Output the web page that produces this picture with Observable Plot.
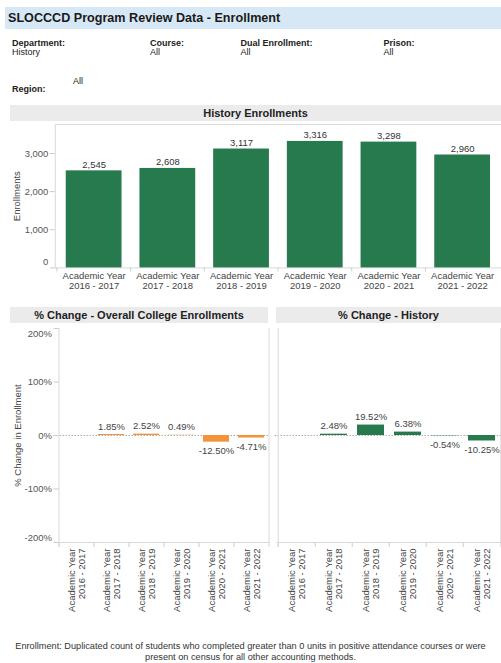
<!DOCTYPE html>
<html><head><meta charset="utf-8">
<script src="https://cdn.jsdelivr.net/npm/d3@7"></script>
<script src="https://cdn.jsdelivr.net/npm/@observablehq/plot@0.6"></script>
<style>
html,body{margin:0;padding:0;background:#fff;overflow:hidden;}
#page{position:relative;width:501px;height:663px;font-family:"Liberation Sans",Arial,sans-serif;color:#222;overflow:hidden;}
.abs{position:absolute;white-space:nowrap;line-height:11px;}
.hdr{position:absolute;background:#ebebeb;font-weight:bold;font-size:11px;text-align:center;color:#222;height:16px;line-height:16px;}
.lbl{font-weight:bold;font-size:9px;}
.val{font-size:9px;}
.chart{position:absolute;}
.foot{position:absolute;left:0;width:501px;text-align:center;font-size:9.2px;line-height:11px;color:#333;}
</style></head><body><div id="page"></div>
<script>
// ---- data ----
const titleText = "SLOCCCD Program Review Data - Enrollment";
const filterNames = ["Department:", "Course:", "Dual Enrollment:", "Prison:"];
const filterValues = ["History", "All", "All", "All"];
const regionName = "Region:";
const regionValue = "All";
const years = ["2016 - 2017", "2017 - 2018", "2018 - 2019", "2019 - 2020", "2020 - 2021", "2021 - 2022"];
const enrollments = [2545, 2608, 3117, 3316, 3298, 2960];
const collegeChange = [null, 1.85, 2.52, 0.49, -12.50, -4.71];
const historyChange = [null, 2.48, 19.52, 6.38, -0.54, -10.25];
const enrollTicks = [0, 1000, 2000, 3000];
const pctTicks = [-200, -100, 0, 100, 200];
const footLines = [
  "Enrollment: Duplicated count of students who completed greater than 0 units in positive attendance courses or were",
  "present on census for all other accounting methods."
];

const GREEN = "#277a4e";
const ORANGE = "#f4933a";
const FONT = "'Liberation Sans', Arial, sans-serif";
const page = document.getElementById("page");

function el(tag, cls, css, text) {
  const e = document.createElement(tag);
  if (cls) e.className = cls;
  Object.assign(e.style, css);
  if (text != null) e.textContent = text;
  page.appendChild(e);
  return e;
}

// ---- header ----
el("div", null, {position:"absolute", left:"5px", top:"7px", width:"496px", height:"22px", background:"#d6e7f5",
  fontWeight:"bold", fontSize:"12.6px", lineHeight:"22px", paddingLeft:"3px", boxSizing:"border-box", color:"#1a1a1a"}, titleText);
const fx = [12, 150, 240.5, 383.5];
filterNames.forEach((n, i) => {
  el("div", "abs lbl", {left: fx[i] + "px", top: "37.5px"}, n);
  el("div", "abs val", {left: fx[i] + "px", top: "46.5px"}, filterValues[i]);
});
el("div", "abs lbl", {left: "12px", top: "83.5px"}, regionName);
el("div", "abs val", {left: "73px", top: "75.5px"}, regionValue);

el("div", "hdr", {left:"10px", top:"105px", width:"491px"}, "History Enrollments");
el("div", "hdr", {left:"10px", top:"307px", width:"258px"}, "% Change - Overall College Enrollments");
el("div", "hdr", {left:"276px", top:"307px", width:"225px"}, "% Change - History");

footLines.forEach((t, i) => el("div", "foot", {top: (641 + i * 11) + "px"}, t));

const style = {fontFamily: FONT, fontSize: "9.5px", color: "#444", background: "transparent", overflow: "visible"};
const yearFmt = d => "Academic Year\n" + d;

// ---- enrollment bar chart ----
{
  const W = 503, H = 178, ML = 55, MT = 2, MB = 32;
  const frameH = H - MT - MB;
  const step = (W - ML) / years.length;
  const table = years.map((y, i) => ({year: y, value: enrollments[i]}));
  const chart = Plot.plot({
    width: W, height: H, marginLeft: ML, marginRight: 0, marginTop: MT, marginBottom: MB,
    style,
    x: {domain: years, paddingInner: 0.25, paddingOuter: 0.125, axis: null},
    y: {domain: [0, 3760], axis: null},
    marks: [
      Plot.frame({stroke: "#d9d9d9"}),
      Plot.barY(table, {x: "year", y: "value", fill: GREEN}),
      Plot.text(table, {x: "year", y: "value", text: d => d3.format(",")(d.value), dy: -3, lineAnchor: "bottom", fill: "#333"}),
      Plot.ruleX(years, {x: d => d, dx: -step / 2, insetTop: frameH, insetBottom: -4, stroke: "#ccc"}),
      Plot.axisY(enrollTicks.filter(t => t > 0), {tickSize: 5, tickPadding: 2, tickFormat: d3.format(","), stroke: "#ccc", fill: "#555", label: null}),
      Plot.axisY([0], {tickSize: 5, tickPadding: 2, stroke: "#ccc", fill: "none", label: null}),
      Plot.axisY([0], {tickSize: 0, tickPadding: 7, dy: -6, tickFormat: d3.format(","), fill: "#555", label: null}),
      Plot.axisX({tickSize: 0, tickPadding: 4, tickFormat: yearFmt, fill: "#444", label: null, lineHeight: 1.05}),
      Plot.text(["Enrollments"], {text: d => d, frameAnchor: "left", dx: -38, rotate: -90, textAnchor: "middle", fill: "#444"})
    ]
  });
  chart.classList.add("chart");
  Object.assign(chart.style, {left: "0px", top: "122px"});
  page.appendChild(chart);
}

// ---- % change panels ----
function changePanel(values, color, left, W, ML, showY) {
  const H = 291, MT = 2, MB = 75;
  const frameH = H - MT - MB;
  const step = (W - ML) / years.length;
  const table = years.map((y, i) => ({year: y, value: values[i]})).filter(d => d.value != null);
  const fmt = d => d.value.toFixed(2) + "%";
  const marks = [
    Plot.ruleY([0], {stroke: "#aaa", strokeDasharray: "1.5,1.5", insetLeft: showY ? -5 : -2}),
    Plot.ruleX(years, {x: d => d, dx: -step / 2, insetTop: frameH, insetBottom: -5, stroke: "#ccc"}),
    Plot.ruleX([years[0]], {x: d => d, dx: -step / 2, insetBottom: -5, stroke: "#d9d9d9"}),
    Plot.ruleX([years[years.length - 1]], {x: d => d, dx: step / 2, insetBottom: -5, stroke: "#d9d9d9"}),
    Plot.frame({anchor: "bottom", stroke: "#d9d9d9"}),
    Plot.barY(table, {x: "year", y: "value", fill: color}),
    Plot.text(table.filter(d => d.value >= 0), {x: "year", y: "value", text: fmt, dy: -8, fill: "#444"}),
    Plot.text(table.filter(d => d.value < 0), {x: "year", y: "value", text: fmt, dy: 9, fill: "#444"}),
    Plot.axisX({tickSize: 0, tickPadding: 6, tickRotate: -90, tickFormat: yearFmt, fill: "#444", label: null, lineHeight: 1.05})
  ];
  if (showY) {
    marks.push(
      Plot.axisY(pctTicks, {tickSize: 5, tickPadding: 2, stroke: "#ccc", fill: "none", label: null}),
      Plot.axisY([-100, 0, 100], {tickSize: 0, tickPadding: 7, tickFormat: d => d + "%", fill: "#555", label: null}),
      Plot.axisY([200], {tickSize: 0, tickPadding: 7, dy: 5, tickFormat: d => d + "%", fill: "#555", label: null}),
      Plot.axisY([-200], {tickSize: 0, tickPadding: 7, dy: -5, tickFormat: d => d + "%", fill: "#555", label: null}),
      Plot.text(["% Change in Enrollment"], {text: d => d, frameAnchor: "left", dx: -41, rotate: -90, textAnchor: "middle", fill: "#444"})
    );
  }
  const chart = Plot.plot({
    width: W, height: H, marginLeft: ML, marginRight: 0, marginTop: MT, marginBottom: MB,
    style,
    x: {domain: years, paddingInner: 0.26, paddingOuter: 0.13, axis: null},
    y: {domain: [-200, 200], axis: null},
    marks
  });
  chart.classList.add("chart");
  Object.assign(chart.style, {left: left + "px", top: "326px"});
  page.appendChild(chart);
}
changePanel(collegeChange, ORANGE, 0, 268.5, 58.5, true);
changePanel(historyChange, GREEN, 276, 226, 0.5, false);
</script></body></html>
